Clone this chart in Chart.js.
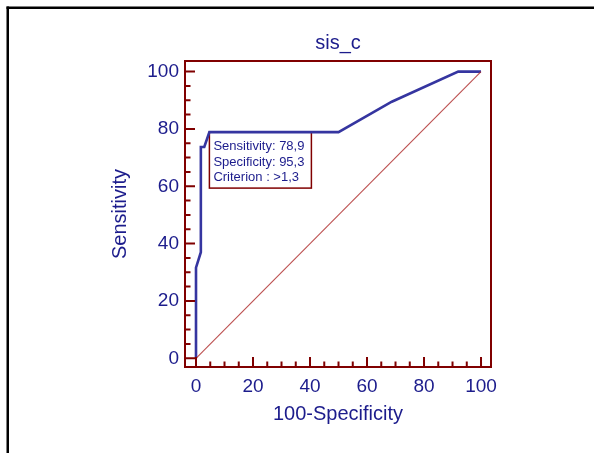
<!DOCTYPE html>
<html><head><meta charset="utf-8">
<script src="https://cdn.jsdelivr.net/npm/chart.js@4/dist/chart.umd.min.js"></script>
<style>html,body{margin:0;padding:0;background:#fff;overflow:hidden}#wrap{position:relative;width:594px;height:453px}</style>
</head><body><div id="wrap"><canvas id="c" width="594" height="453"></canvas></div>
<script>
const chartTitle = 'sis_c';
const xAxisTitle = '100-Specificity';
const yAxisTitle = 'Sensitivity';
const rocX = [0, 0, 1.7, 1.7, 2.9, 4.7, 50, 68.7, 92, 100];
const rocY = [0, 31.6, 37.0, 73.7, 73.7, 78.9, 78.9, 89.5, 100, 100];
const refX = [0, 100];
const refY = [0, 100];
const xTickValues = [0, 20, 40, 60, 80, 100];
const yTickValues = [0, 20, 40, 60, 80, 100];
const criterionPoint = [4.7, 78.9];
const criterionLines = ['Sensitivity: 78,9', 'Specificity: 95,3', 'Criterion : >1,3'];

const NAVY = '#1c1c8c';
const DARKRED = '#800000';
const FONT = "'Liberation Sans', Arial, sans-serif";

const toPts = (xs, ys) => xs.map((x, i) => ({x: x, y: ys[i]}));

const decor = {
  id: 'decor',
  beforeDraw(chart) {
    const ctx = chart.ctx;
    ctx.save();
    ctx.fillStyle = '#fff';
    ctx.fillRect(0, 0, chart.width, chart.height);
    ctx.fillStyle = '#000';
    ctx.fillRect(6.5, 6.5, chart.width, 2.5);
    ctx.fillRect(6.5, 6.5, 2.5, chart.height);
    ctx.restore();
  },
  beforeDatasetsDraw(chart) {
    const ctx = chart.ctx, xs = chart.scales.x, ys = chart.scales.y;
    const bx = xs.getPixelForValue(criterionPoint[0]);
    const by = ys.getPixelForValue(criterionPoint[1]);
    const bw = 102, bh = 56;
    ctx.save();
    ctx.fillStyle = '#fff';
    ctx.fillRect(bx, by, bw, bh);
    ctx.strokeStyle = DARKRED;
    ctx.lineWidth = 1.5;
    ctx.strokeRect(bx, by, bw, bh);
    ctx.fillStyle = NAVY;
    ctx.font = '13px ' + FONT;
    ctx.textBaseline = 'middle';
    ctx.textAlign = 'left';
    criterionLines.forEach((t, i) => ctx.fillText(t, bx + 4, by + 14.5 + i * 15.5));
    ctx.restore();
  },
  afterDatasetsDraw(chart) {
    const ctx = chart.ctx, ca = chart.chartArea, xs = chart.scales.x, ys = chart.scales.y;
    ctx.save();
    ctx.strokeStyle = DARKRED;
    ctx.lineWidth = 2;
    ctx.beginPath();
    for (let v = 0; v <= 100; v += 5) {
      const len = (v % 20 === 0) ? 10 : 5.5;
      const px = xs.getPixelForValue(v);
      ctx.moveTo(px, ca.bottom); ctx.lineTo(px, ca.bottom - len);
      const py = ys.getPixelForValue(v);
      ctx.moveTo(ca.left, py); ctx.lineTo(ca.left + len, py);
    }
    ctx.stroke();
    ctx.strokeRect(ca.left, ca.top, ca.right - ca.left, ca.bottom - ca.top);
    ctx.restore();
  }
};

new Chart(document.getElementById('c'), {
  type: 'scatter',
  data: {
    datasets: [
      {data: toPts(rocX, rocY), showLine: true, borderColor: '#3535a0', backgroundColor: '#3535a0', borderWidth: 2.6, pointRadius: 0, tension: 0, order: 1},
      {data: toPts(refX, refY), showLine: true, borderColor: 'rgba(176,48,48,0.85)', backgroundColor: 'rgba(176,48,48,0.85)', borderWidth: 1.1, pointRadius: 0, tension: 0, order: 0}
    ]
  },
  options: {
    responsive: false,
    animation: false,
    devicePixelRatio: 1,
    layout: {padding: {left: 108, right: 103, top: 0, bottom: 20}},
    plugins: {
      legend: {display: false},
      tooltip: {enabled: false},
      title: {display: true, text: chartTitle, fullSize: false, color: NAVY,
        font: {family: FONT, size: 20, weight: 'normal', lineHeight: 1.2},
        padding: {top: 31, bottom: 6}}
    },
    scales: {
      x: {
        type: 'linear', min: -3.86, max: 103.5,
        grid: {display: false, drawTicks: false},
        border: {display: false},
        afterBuildTicks: s => { s.ticks = xTickValues.map(v => ({value: v})); },
        afterFit: s => { s.height = 66; },
        ticks: {color: NAVY, padding: 8, font: {family: FONT, size: 19}},
        title: {display: true, text: xAxisTitle, color: NAVY, font: {family: FONT, size: 20, lineHeight: 1.2}, padding: {top: 0, bottom: 7}}
      },
      y: {
        type: 'linear', min: -3.04, max: 103.7,
        grid: {display: false, drawTicks: false},
        border: {display: false},
        afterBuildTicks: s => { s.ticks = yTickValues.map(v => ({value: v})); },
        afterFit: s => { s.width = 77; },
        ticks: {color: NAVY, padding: 6, font: {family: FONT, size: 19}},
        title: {display: true, text: yAxisTitle, color: NAVY, font: {family: FONT, size: 20, lineHeight: 1.2}, padding: {top: 0, bottom: 0}}
      }
    }
  },
  plugins: [decor]
});
</script></body></html>
